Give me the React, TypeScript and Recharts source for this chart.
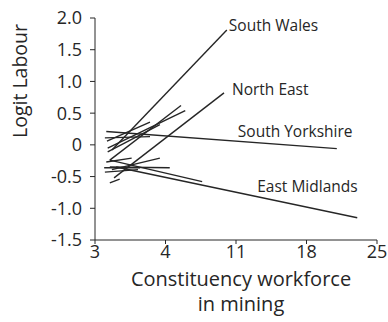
import React from 'react';
import { LineChart, Line, XAxis, YAxis } from 'recharts';

// Positions along the mining axis are stored as tick slots (0..4),
// because the axis labels 3, 4, 11, 18, 25 are spaced evenly.
const xTickSlots = [0, 1, 2, 3, 4];
const xTickLabels = ['3', '4', '11', '18', '25'];

const yTicks = [2.0, 1.5, 1.0, 0.5, 0, -0.5, -1.0, -1.5];
const yTickLabels = ['2.0', '1.5', '1.0', '0.5', '0', '-0.5', '-1.0', '-1.5'];

// One regression segment per constituency group
const segmentStartSlot = [0.24, 0.27, 0.21, 0.18, 0.16, 0.30, 0.21, 0.13, 0.14, 0.17, 0.18, 0.21, 0.16, 0.14, 0.21, 0.24];
const segmentEndSlot = [1.87, 1.83, 1.22, 1.28, 3.43, 3.72, 1.52, 0.64, 0.61, 0.78, 0.92, 0.35, 0.52, 0.78, 1.06, 0.92];
const segmentStartLogit = [-0.08, -0.52, -0.24, -0.05, 0.21, -0.35, -0.24, -0.36, -0.43, 0.06, -0.11, -0.60, -0.27, 0.11, -0.35, -0.39];
const segmentEndLogit = [1.81, 0.82, 0.62, 0.54, -0.06, -1.15, -0.58, -0.36, -0.39, 0.36, 0.32, -0.54, -0.21, 0.13, -0.36, -0.21];

// Named regions and the segment each one labels
const regionNames = ['South Wales', 'North East', 'South Yorkshire', 'East Midlands'];
const regionSegment = [0, 1, 4, 5];

const labelOffsets: Record<string, [number, number]> = {
  'South Wales': [2, -3],
  'North East': [8, -2],
  'South Yorkshire': [-99, -16],
  'East Midlands': [-100, -30],
};

const FONT = '"Open Sans", Roboto, sans-serif';
const INK = '#262626';

const segments = segmentStartSlot.map((s, i) => [
  { x: s, y: segmentStartLogit[i] },
  { x: segmentEndSlot[i], y: segmentEndLogit[i] },
]);

const makeRegionLabel = (name: string) => (props: any) => {
  const { x, y, index } = props;
  if (index !== 1) return null;
  const [dx, dy] = labelOffsets[name];
  return (
    <text
      x={x + dx}
      y={y + dy}
      dominantBaseline="middle"
      fontFamily={FONT}
      fontSize={15.5}
      fill={INK}
    >
      {name}
    </text>
  );
};

const XTitle = (props: any) => {
  const { viewBox } = props;
  const cx = viewBox.x + viewBox.width / 2 + 5;
  return (
    <g fontFamily={FONT} fontSize={20} fill={INK}>
      <text x={cx} y={286} textAnchor="middle">Constituency workforce</text>
      <text x={cx} y={311} textAnchor="middle">in mining</text>
    </g>
  );
};

const YTitle = () => (
  <text
    x={0}
    y={0}
    transform="translate(27, 81) rotate(-90)"
    textAnchor="middle"
    fontFamily={FONT}
    fontSize={19.5}
    fill={INK}
  >
    Logit Labour
  </text>
);

export default function App() {
  return (
    <div style={{ position: 'fixed', left: 0, top: 0, background: '#fff' }}>
      <LineChart
        width={388}
        height={322}
        margin={{ top: 18, right: 11, bottom: 52, left: 0 }}
      >
        <XAxis
          type="number"
          dataKey="x"
          domain={[0, 4]}
          ticks={xTickSlots}
          tickFormatter={(v: number) => xTickLabels[xTickSlots.indexOf(v)] ?? ''}
          interval={0}
          height={30}
          stroke={INK}
          tickSize={4}
          tickMargin={1}
          tick={{ fontFamily: FONT, fontSize: 18, fill: INK }}
          allowDataOverflow
          label={<XTitle />}
        />
        <YAxis
          type="number"
          dataKey="y"
          domain={[-1.5, 2.0]}
          ticks={yTicks}
          tickFormatter={(v: number) => yTickLabels[yTicks.indexOf(v)] ?? ''}
          interval={0}
          width={95}
          stroke={INK}
          tickSize={5}
          tickMargin={8}
          tick={{ fontFamily: FONT, fontSize: 18, fill: INK }}
          allowDataOverflow
          label={<YTitle />}
        />
        {segments.map((seg, i) => {
          const r = regionSegment.indexOf(i);
          return (
            <Line
              key={i}
              data={seg}
              dataKey="y"
              stroke={INK}
              strokeWidth={1.4}
              dot={false}
              isAnimationActive={false}
              label={r >= 0 ? makeRegionLabel(regionNames[r]) : undefined}
            />
          );
        })}
      </LineChart>
    </div>
  );
}
